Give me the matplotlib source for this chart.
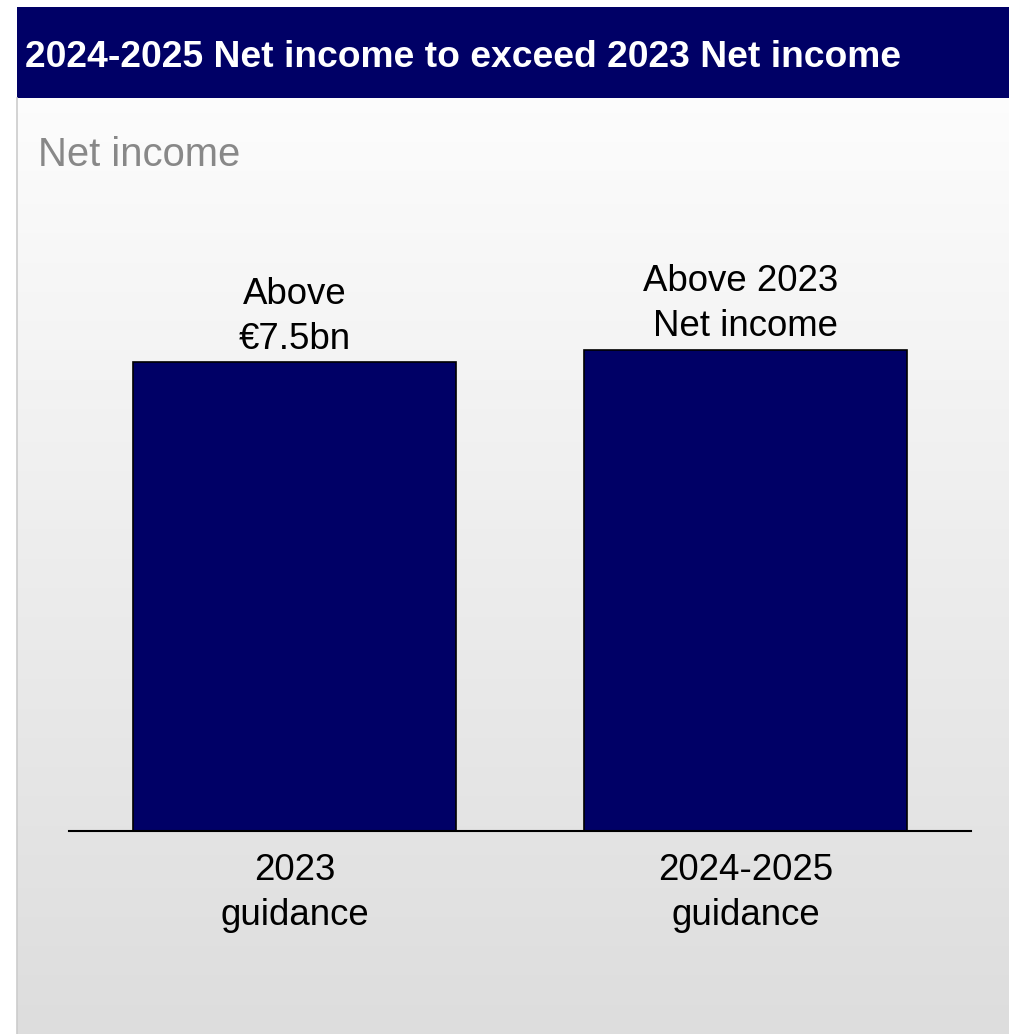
import numpy as np
import matplotlib
matplotlib.use("Agg")
import matplotlib.pyplot as plt
from matplotlib.patches import Rectangle

plt.rcParams['font.family'] = ['Liberation Sans', 'DejaVu Sans']

# Chart content
title = "2024-2025 Net income to exceed 2023 Net income"
subtitle = "Net income"
categories = ["2023\nguidance", "2024-2025\nguidance"]
values = [7.5, 7.7]  # €bn
bar_labels = ["Above\n€7.5bn", "Above 2023 \nNet income"]

NAVY = "#000066"

W, H = 1009, 1034
fig = plt.figure(figsize=(W / 100, H / 100), dpi=100)
fig.patch.set_facecolor("white")

def fx(px):
    return px / W

def fy(py):
    return 1 - py / H

# Panel background: vertical light-grey gradient
bg = fig.add_axes([fx(17), 0, 1 - fx(17), fy(98)])
grad = np.linspace(0, 1, 256).reshape(-1, 1)
top_c = np.array([0.99, 0.99, 0.99])
bot_c = np.array([0.867, 0.867, 0.867])
img = top_c + (bot_c - top_c) * grad
bg.imshow(img[:, None, :].repeat(2, axis=1), aspect="auto", extent=[0, 1, 0, 1])
bg.set_axis_off()
bg.set_zorder(0)

# Thin left border of the panel
fig.add_artist(plt.Line2D([fx(16.5), fx(16.5)], [0, fy(98)], color="#cccccc", lw=1.2,
                          transform=fig.transFigure))

# Title band
fig.add_artist(Rectangle((fx(17), fy(98)), 1 - fx(17), fy(7) - fy(98),
                         transform=fig.transFigure, facecolor=NAVY, edgecolor="none"))
fig.text(fx(25), fy(67), title, color="white", fontsize=26.8, fontweight="bold",
         ha="left", va="baseline")

# Subtitle
fig.text(fx(38), fy(166), subtitle, color="#888888", fontsize=28.8, ha="left", va="baseline")

# Bar chart
ax = fig.add_axes([fx(69), fy(831), fx(971) - fx(69), fy(200) - fy(831)])
ax.patch.set_alpha(0)
x = np.arange(len(categories))
bars = ax.bar(x, values, width=0.716, color=NAVY, edgecolor="black", linewidth=1.2, zorder=2)
ax.set_xlim(-0.5, 1.5)
ax.set_ylim(0, 10.1)

for rect, lab in zip(bars, bar_labels):
    ax.annotate(lab, (rect.get_x() + rect.get_width() / 2, rect.get_height()),
                xytext=(0, 4), textcoords="offset points", ha="center", va="bottom",
                fontsize=26.4, color="black", linespacing=1.37)

ax.set_xticks(x)
ax.set_xticklabels(categories, fontsize=26.4, linespacing=1.37)
ax.tick_params(axis="x", length=0, pad=15.5)
ax.set_yticks([])
for s in ["top", "right", "left"]:
    ax.spines[s].set_visible(False)
ax.spines["bottom"].set_linewidth(1.5)
ax.spines["bottom"].set_color("black")
ax.spines["bottom"].set_zorder(3)

fig.savefig("out.png", dpi=100, facecolor=fig.get_facecolor())
